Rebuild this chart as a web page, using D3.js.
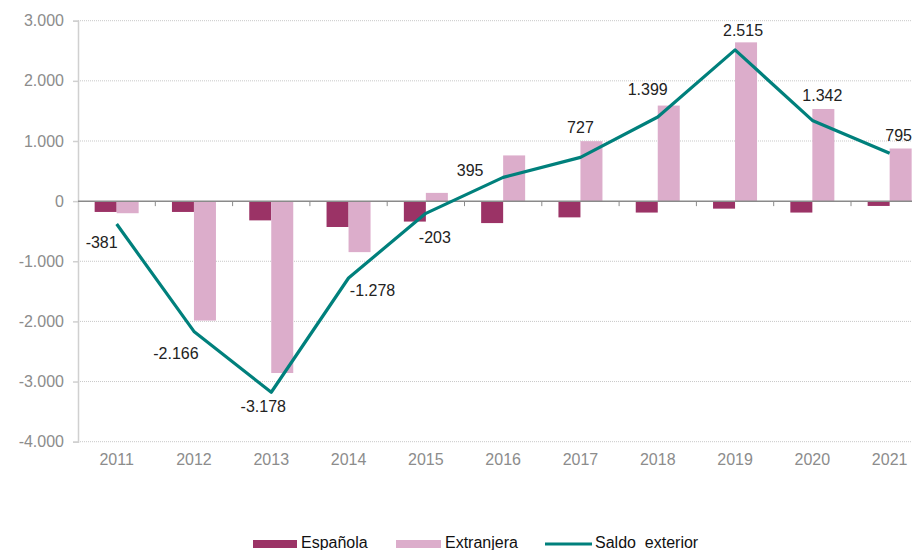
<!DOCTYPE html>
<html>
<head>
<meta charset="utf-8">
<script src="https://cdn.jsdelivr.net/npm/d3@7"></script>
<style>
  html, body { margin: 0; padding: 0; background: #fff; }
  svg { display: block; font-family: "Liberation Sans", Arial, sans-serif; }
</style>
</head>
<body>
<svg id="chart" width="912" height="550"></svg>
<script>
// Years on the horizontal axis
const years = ["2011","2012","2013","2014","2015","2016","2017","2018","2019","2020","2021"];
// Component flows (bars)
const espanola   = [-180, -180, -320, -430, -340, -365, -270, -190, -125, -190, -80];
const extranjera = [-201, -1986, -2858, -848, 137, 760, 997, 1589, 2640, 1532, 875];
// Net balance (line, labelled)
const saldo = [-381, -2166, -3178, -1278, -203, 395, 727, 1399, 2515, 1342, 795];
// Vertical axis ticks
const yTicks = [3000, 2000, 1000, 0, -1000, -2000, -3000, -4000];

// Label placement relative to each line point (dx, dy of text centre)
const labelOffsets = [
  [-15, 18], [-18, 22], [-8, 14], [24, 12], [9, 24],
  [-33, -7], [0, -30], [-10, -28], [8, -19], [10, -25], [9, -18]
];

const colors = { esp: "#9b3366", ext: "#dcadcb", saldo: "#00807c" };
const FS = 16;

const svg = d3.select("#chart");
const left = 78, step = 77.3;

const x = d3.scaleBand().domain(years).range([left, left + step * years.length]).padding(0);
const y = d3.scaleLinear().domain([-4000, 3000]).range([441.7, 20.7]);
const barW = 22;

const fmt = v => {
  const s = d3.format(",")(Math.abs(v)).replace(/,/g, ".");
  return (v < 0 ? "-" : "") + s;
};

// Gridlines (dotted), skipping zero
svg.append("g").selectAll("line")
  .data(yTicks.filter(d => d !== 0))
  .join("line")
  .attr("x1", left).attr("x2", 912)
  .attr("y1", d => y(d)).attr("y2", d => y(d))
  .attr("stroke", "#c8c8c8").attr("stroke-width", 1)
  .attr("stroke-dasharray", "1,1");

// Y axis
const yAxis = d3.axisLeft(y).tickValues(yTicks).tickSize(5).tickPadding(9)
  .tickFormat(d => d === 0 ? "0" : fmt(d));
const gy = svg.append("g").attr("transform", `translate(${left},0)`).call(yAxis);
gy.select(".domain").attr("stroke", "#d0d0d0").attr("stroke-width", 1.5);
gy.selectAll(".tick line").attr("stroke", "#d0d0d0").attr("stroke-width", 1.5);
gy.selectAll(".tick text").attr("fill", "#8c8c8c").attr("font-size", FS)
  .attr("font-family", "Liberation Sans, Arial, sans-serif");

// Bars
const bars = svg.append("g");
bars.selectAll("rect.esp").data(years).join("rect")
  .attr("class", "esp")
  .attr("x", (d) => x(d) + x.bandwidth() / 2 - barW)
  .attr("width", barW)
  .attr("y", (d, i) => y(Math.max(0, espanola[i])))
  .attr("height", (d, i) => Math.abs(y(espanola[i]) - y(0)))
  .attr("fill", colors.esp);
bars.selectAll("rect.ext").data(years).join("rect")
  .attr("class", "ext")
  .attr("x", (d) => x(d) + x.bandwidth() / 2)
  .attr("width", barW)
  .attr("y", (d, i) => y(Math.max(0, extranjera[i])))
  .attr("height", (d, i) => Math.abs(y(extranjera[i]) - y(0)))
  .attr("fill", colors.ext);

// Zero baseline with category ticks
const gx = svg.append("g").attr("transform", `translate(0,${y(0)})`);
gx.append("line").attr("x1", left).attr("x2", 912).attr("y1", 0).attr("y2", 0)
  .attr("stroke", "#8a8a8a").attr("stroke-width", 1.5);
gx.selectAll("line.sep").data(years.slice(1)).join("line")
  .attr("class", "sep")
  .attr("x1", d => x(d)).attr("x2", d => x(d))
  .attr("y1", 0).attr("y2", 5)
  .attr("stroke", "#8a8a8a").attr("stroke-width", 1);

// Year labels along the bottom
const gxl = svg.append("g").attr("transform", `translate(0,${y(-4000)})`).call(
  d3.axisBottom(x).tickSize(0).tickPadding(12)
);
gxl.select(".domain").remove();
gxl.selectAll(".tick text").attr("fill", "#8c8c8c").attr("font-size", FS)
  .attr("font-family", "Liberation Sans, Arial, sans-serif");

// Net balance line
const line = d3.line()
  .x((d, i) => x(years[i]) + x.bandwidth() / 2)
  .y(d => y(d));
svg.append("path").datum(saldo)
  .attr("d", line)
  .attr("fill", "none")
  .attr("stroke", colors.saldo)
  .attr("stroke-width", 3.2)
  .attr("stroke-linejoin", "round");

// Value labels
svg.append("g").selectAll("text").data(saldo).join("text")
  .attr("x", (d, i) => x(years[i]) + x.bandwidth() / 2 + labelOffsets[i][0])
  .attr("y", (d, i) => y(d) + labelOffsets[i][1])
  .attr("dy", "0.35em")
  .attr("text-anchor", "middle")
  .attr("font-size", FS)
  .attr("fill", "#222")
  .text(d => fmt(d));

// Legend
const legend = svg.append("g");
const legendY = 543;
legend.append("rect").attr("x", 253).attr("y", legendY - 3).attr("width", 44).attr("height", 8).attr("fill", colors.esp);
legend.append("text").attr("x", 301).attr("y", legendY + 5).attr("font-size", FS).attr("fill", "#111").text("Española");
legend.append("rect").attr("x", 396).attr("y", legendY - 3).attr("width", 45).attr("height", 8).attr("fill", colors.ext);
legend.append("text").attr("x", 445).attr("y", legendY + 5).attr("font-size", FS).attr("fill", "#111").text("Extranjera");
legend.append("line").attr("x1", 545).attr("x2", 592).attr("y1", legendY + 1).attr("y2", legendY + 1)
  .attr("stroke", colors.saldo).attr("stroke-width", 3);
legend.append("text").attr("x", 595).attr("y", legendY + 5).attr("font-size", FS).attr("fill", "#111")
  .attr("xml:space", "preserve").style("white-space", "pre").text("Saldo  exterior");
</script>
</body>
</html>
